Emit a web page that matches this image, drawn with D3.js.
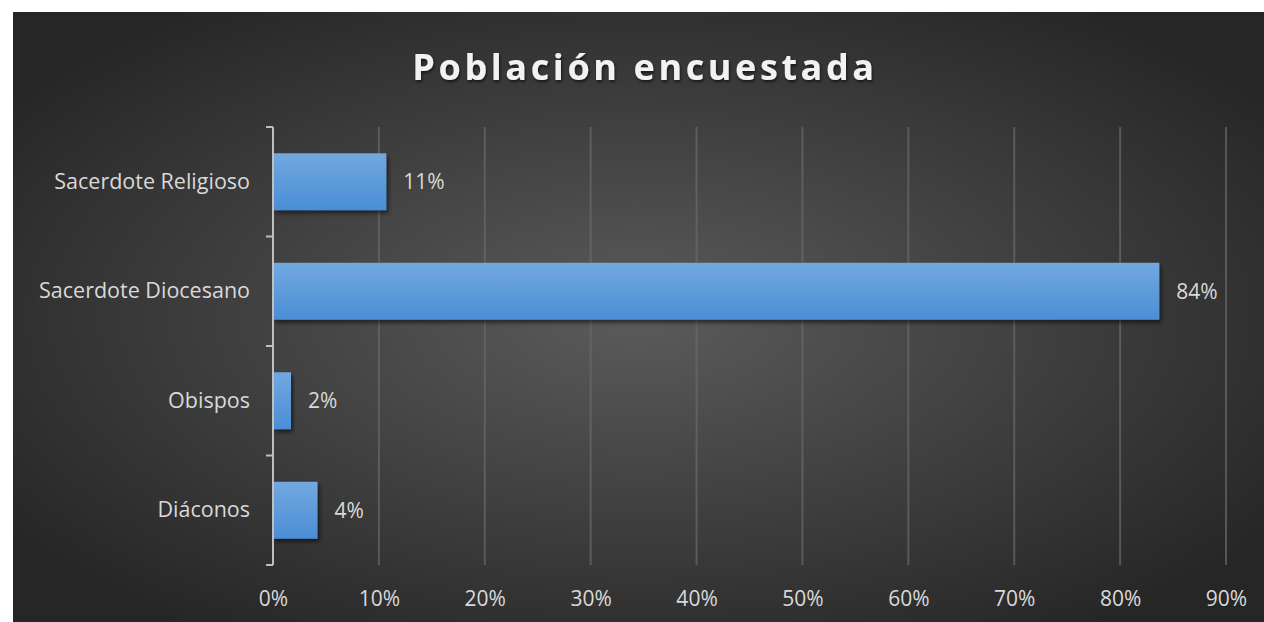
<!DOCTYPE html>
<html>
<head>
<meta charset="utf-8">
<script src="https://cdn.jsdelivr.net/npm/d3@7"></script>
<style>
  body { margin: 0; background: #fff; }
  svg { display: block; }
  text { font-family: "Open Sans", Lato, sans-serif; }
</style>
</head>
<body>
<div id="chart"></div>
<script>
const categories = ["Sacerdote Religioso", "Sacerdote Diocesano", "Obispos", "Diáconos"];
const values = [0.107, 0.837, 0.017, 0.042];
const valueLabels = ["11%", "84%", "2%", "4%"];
const xTicks = [0, 0.1, 0.2, 0.3, 0.4, 0.5, 0.6, 0.7, 0.8, 0.9];
const title = "Población encuestada";

const W = 1264, H = 622;
const svg = d3.select("#chart").append("svg").attr("width", W).attr("height", H);

const defs = svg.append("defs");
const bg = defs.append("radialGradient").attr("id", "bg")
    .attr("cx", "50%").attr("cy", "50%").attr("r", "62%");
bg.append("stop").attr("offset", "0%").attr("stop-color", "#5b5b5b");
bg.append("stop").attr("offset", "100%").attr("stop-color", "#262626");

const barGrad = defs.append("linearGradient").attr("id", "bar")
    .attr("x1", 0).attr("y1", 0).attr("x2", 0).attr("y2", 1);
barGrad.append("stop").attr("offset", "0%").attr("stop-color", "#72a8df");
barGrad.append("stop").attr("offset", "100%").attr("stop-color", "#4a8ed5");

const shadow = defs.append("filter").attr("id", "shadow")
    .attr("x", "-10%").attr("y", "-20%").attr("width", "130%").attr("height", "160%");
shadow.append("feDropShadow").attr("dx", 2).attr("dy", 3).attr("stdDeviation", 2)
    .attr("flood-color", "#000").attr("flood-opacity", 0.55);

const tshadow = defs.append("filter").attr("id", "tshadow");
tshadow.append("feDropShadow").attr("dx", 1).attr("dy", 2).attr("stdDeviation", 1.5)
    .attr("flood-color", "#000").attr("flood-opacity", 0.6);

svg.append("rect").attr("x", 13).attr("y", 12).attr("width", W - 13).attr("height", H - 12)
    .attr("fill", "url(#bg)");

const margin = {left: 273, right: 38, top: 127, bottom: 57};

const x = d3.scaleLinear().domain([0, 0.9]).range([margin.left, W - margin.right]);
const y = d3.scaleBand().domain(categories).range([margin.top, H - margin.bottom])
    .paddingInner(0.48).paddingOuter(0.24);

// gridlines
svg.append("g").selectAll("line").data(xTicks.slice(1)).join("line")
    .attr("x1", d => x(d)).attr("x2", d => x(d))
    .attr("y1", margin.top).attr("y2", H - margin.bottom)
    .attr("stroke", "#6a6a6a").attr("stroke-opacity", 0.7).attr("stroke-width", 2);

// x axis labels
const xAxis = d3.axisBottom(x).tickValues(xTicks).tickFormat(d3.format(".0%")).tickSize(0).tickPadding(26);
const gx = svg.append("g").attr("transform", `translate(0,${H - margin.bottom})`).call(xAxis);
gx.select(".domain").remove();
gx.selectAll("text").attr("fill", "#d9d9d9").attr("font-size", 21);

// bars
svg.append("g").selectAll("rect").data(categories).join("rect")
    .attr("x", x(0)).attr("y", d => y(d))
    .attr("width", (d, i) => x(values[i]) - x(0))
    .attr("height", y.bandwidth())
    .attr("fill", "url(#bar)")
    .attr("filter", "url(#shadow)");

// value labels
svg.append("g").selectAll("text").data(categories).join("text")
    .attr("x", (d, i) => x(values[i]) + 17)
    .attr("y", d => y(d) + y.bandwidth() / 2)
    .attr("dy", "0.35em")
    .attr("fill", "#d9d9d9").attr("font-size", 21)
    .text((d, i) => valueLabels[i]);

// y axis
const yAxis = d3.axisLeft(y).tickSize(0).tickPadding(23);
const gy = svg.append("g").attr("transform", `translate(${margin.left},0)`).call(yAxis);
gy.select(".domain").remove();
gy.selectAll("text").attr("fill", "#d9d9d9").attr("font-size", 21.5);

const yLineTop = margin.top, yLineBot = H - margin.bottom;
const boundaries = d3.range(categories.length + 1).map(i => yLineTop + i * (yLineBot - yLineTop) / categories.length);
svg.append("line").attr("x1", margin.left).attr("x2", margin.left)
    .attr("y1", yLineTop).attr("y2", yLineBot)
    .attr("stroke", "#bfbfbf").attr("stroke-width", 2);
svg.append("g").selectAll("line").data(boundaries).join("line")
    .attr("x1", margin.left - 7).attr("x2", margin.left)
    .attr("y1", d => d).attr("y2", d => d)
    .attr("stroke", "#bfbfbf").attr("stroke-width", 2);

// title
svg.append("text").attr("x", 645).attr("y", 80)
    .attr("text-anchor", "middle")
    .attr("fill", "#f2f2f2").attr("font-size", 36).attr("font-weight", "bold")
    .attr("letter-spacing", 3.6)
    .attr("filter", "url(#tshadow)")
    .text(title);
</script>
</body>
</html>
